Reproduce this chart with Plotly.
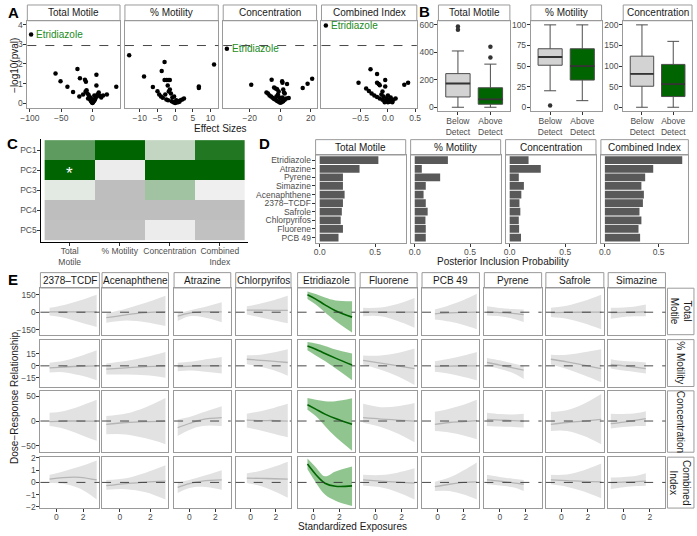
import plotly.graph_objects as go

W, H = 697, 536
FONT = "Liberation Sans, Arial, Helvetica, sans-serif"
GREEN = "#006400"
LABEL_GREEN = "#228B22"
BORDER = "#9a9a9a"
TICKC = "#4d4d4d"
TXT = "#1a1a1a"
TICKSIZE = 8.5

# ---------------- Panel A data (volcano) ----------------
a_titles = ["Total Motile", "% Motility", "Concentration", "Combined Index"]
a_tm_x = [-98, -59, -51, -40, -31, -24, -20, -21, -12, -10.5, -9.4, -8, -6, -5, -4, -3, -2, -1, 0, 1, 2, 3, 4, 5,
          6.3, 6.3, 7, 8, 10, -15, -7, -3, 12, 14, 17, 23, 38, -1.5, 1.5, -11, 3]
a_tm_y = [3.5, 1.52, 1.12, 0.84, 0.58, 1.75, 1.27, 0.35, 1.2, 1.1, 0.66, 0.5, 0.42, 0.3, 0.22, 0.15, 0.1, 0.05, 0.02,
          0.06, 0.1, 0.15, 0.2, 0.28, 1.45, 0.9, 0.35, 0.45, 0.55, 0.45, 0.25, 0.3, 0.38, 0.3, 0.4, 0.45, 0.84, 0.2,
          0.18, 0.6, 0.4]
a_mot_x = [-13, 11, -3, -3.8, -8.8, -3, -2.5, -2, -1.5, -6.3, -5, -2.1, -1.5, -1.2, 6.7, 6.7, 2.5, -4.5, -4, -3.5,
           -2.5, -2, -1, -0.5, 0, 0.5, 1, 1.5, 2, -0.8, -0.3, 0.3, -1.8, -2.8, 0.8, 1.2]
a_mot_y = [2.45, 1.98, 2.1, 1.65, 1.37, 1.18, 1.18, 1.18, 1.18, 0.83, 0.61, 0.9, 0.7, 0.5, 0.85, 0.78, 0.25, 0.45,
           0.35, 0.28, 0.2, 0.15, 0.1, 0.05, 0.02, 0.05, 0.1, 0.15, 0.2, 0.3, 0.35, 0.15, 0.6, 0.45, 0.05, 0.08]
a_conc_x = [-35, -19, -5.6, 1.3, 1.5, 4.5, 14.8, 18, 21, 5.6, -4, -3, -2, -1, 2, 2.5, -8, -7, -6, -5, -4, -3, -2, -1,
            0, 1, 2, 3, 4, -2.5, -0.5, 0.5, 1.5, -1.5, 3, -9]
a_conc_y = [2.77, 0.94, 1.2, 1.12, 1.05, 0.98, 0.78, 1.0, 1.25, 0.27, 0.8, 0.75, 0.72, 0.6, 0.7, 0.55, 0.5, 0.4,
            0.35, 0.28, 0.22, 0.18, 0.12, 0.08, 0.03, 0.06, 0.1, 0.18, 0.25, 0.35, 0.3, 0.25, 0.3, 0.45, 0.5, 0.55]
a_ci_x = [-1.14, -0.54, -0.32, -0.2, -0.2, -0.17, -0.15, -0.05, -0.05, 0.3, 0.37, -0.4, -0.35, -0.3, -0.25, -0.2,
          -0.15, -0.1, -0.05, 0, 0.03, 0.06, 0.1, 0.14, -0.12, -0.08, -0.03, 0.02, 0.05, -0.1, 0.0, -0.02, 0.08, -0.06]
a_ci_y = [3.96, 1.04, 1.73, 1.49, 1.05, 0.98, 0.92, 1.19, 0.85, 0.95, 1.04, 0.75, 0.62, 0.5, 0.4, 0.32, 0.25, 0.18,
          0.12, 0.05, 0.08, 0.12, 0.18, 0.25, 0.45, 0.35, 0.25, 0.2, 0.3, 0.6, 0.4, 0.15, 0.05, 0.05]
a_threshold = 2.94
a_label = "Etridiazole"

# ---------------- Panel B data (boxplots) ----------------
b_titles = ["Total Motile", "% Motility", "Concentration"]
b_groups = ["Below<br>Detect", "Above<br>Detect"]
# [lower whisker, q1, median, q3, upper whisker]
b_tm_below = [0, 75, 173, 245, 410]
b_tm_above = [0, 22, 58, 142, 314]
b_tm_out_below = [565, 589]
b_tm_out_above = [362, 441]
b_mot_below = [20, 51, 61, 71, 100]
b_mot_above = [8, 33, 50, 71, 100]
b_mot_out_below = [2]
b_mot_out_above = []
b_conc_below = [0, 51, 81, 124, 200]
b_conc_above = [0, 26, 56, 104, 160]
b_conc_out_below = []
b_conc_out_above = []

# ---------------- Panel C data (heatmap) ----------------
c_pcs = ["PC1", "PC2", "PC3", "PC4", "PC5"]
c_outcomes = ["Total<br>Motile", "% Motility", "Concentration", "Combined<br>Index"]
c_values = [[0.61, 1.0, 0.2, 0.86],
            [1.0, -0.05, 1.0, 1.0],
            [0.06, -0.4, 0.33, -0.02],
            [-0.4, -0.4, -0.4, -0.4],
            [-0.38, -0.38, -0.05, -0.38]]
c_star = ("PC2", 0)

# ---------------- Panel D data (PIPs) ----------------
d_titles = ["Total Motile", "% Motility", "Concentration", "Combined Index"]
d_chems = ["Etridiazole", "Atrazine", "Pyrene", "Simazine", "Acenaphthene", "2378–TCDF", "Safrole",
           "Chlorpyrifos", "Fluorene", "PCB 49"]
d_tm = [0.53, 0.36, 0.21, 0.21, 0.225, 0.21, 0.2, 0.19, 0.21, 0.17]
d_mot = [0.30, 0.064, 0.23, 0.10, 0.08, 0.10, 0.117, 0.097, 0.10, 0.10]
d_conc = [0.17, 0.28, 0.082, 0.128, 0.105, 0.088, 0.096, 0.082, 0.085, 0.102]
d_ci = [0.72, 0.45, 0.375, 0.34, 0.363, 0.354, 0.322, 0.34, 0.313, 0.328]

# ---------------- Panel E data (dose-response) ----------------
e_exposures = ["2378–TCDF", "Acenaphthene", "Atrazine", "Chlorpyrifos", "Etridiazole", "Fluorene", "PCB 49",
               "Pyrene", "Safrole", "Simazine"]
e_outcomes = ["Total<br>Motile", "% Motility", "Concentration", "Combined<br>Index"]
e_x = {
    "2378–TCDF": [-0.5, 0.5, 1.75, 3.0],
    "Acenaphthene": [-0.9, 0.4, 1.7, 3.0],
    "Atrazine": [-0.9, 0.0, 1.0, 2.5],
    "Chlorpyrifos": [-0.3, 0.8, 1.9, 2.94],
    "Etridiazole": [-0.43, 0.2, 0.9, 1.7, 2.96],
    "Fluorene": [-0.95, 0.4, 1.7, 3.0],
    "PCB 49": [-0.2, 0.9, 2.0, 3.0],
    "Pyrene": [-0.98, 0.0, 1.0, 1.83],
    "Safrole": [-0.8, 0.4, 1.7, 3.0],
    "Simazine": [-0.98, 0.0, 1.0, 1.7],
}
e_tm_est = {"2378–TCDF": [2, 2, 3, 3], "Acenaphthene": [-47, -22, -3, 3], "Atrazine": [-34, -8, 2, 3],
            "Chlorpyrifos": [18, 17, 16, 15], "Etridiazole": [149, 112, 63, 13, -42], "Fluorene": [2, 1, 0, 0],
            "PCB 49": [-14, -6, -1, 1], "Pyrene": [2, -3, -10, -20], "Safrole": [-3, -2, 0, 1],
            "Simazine": [-3, -1, 1, 3]}
e_tm_lo = {"2378–TCDF": [-28, -45, -85, -126], "Acenaphthene": [-90, -70, -85, -118], "Atrazine": [-75, -35, -40, -85],
           "Chlorpyrifos": [-20, -45, -70, -95], "Etridiazole": [113, 65, 0, -75, -174],
           "Fluorene": [-34, -35, -75, -132], "PCB 49": [-62, -80, -110, -146], "Pyrene": [-28, -35, -55, -84],
           "Safrole": [-40, -55, -95, -146], "Simazine": [-56, -40, -35, -34]}
e_tm_hi = {"2378–TCDF": [37, 60, 100, 149], "Acenaphthene": [-11, 30, 80, 140], "Atrazine": [-8, 15, 40, 85],
           "Chlorpyrifos": [50, 75, 105, 140], "Etridiazole": [177, 155, 125, 100, 93],
           "Fluorene": [37, 40, 70, 121], "PCB 49": [22, 60, 105, 157], "Pyrene": [50, 35, 28, 23],
           "Safrole": [37, 55, 95, 149], "Simazine": [37, 40, 50, 65]}
e_mot_est = {"2378–TCDF": [-2.5, -1.5, -0.5, 0], "Acenaphthene": [-4, -2.5, -1, 0], "Atrazine": [-1, -0.5, 0, 0],
             "Chlorpyrifos": [8.3, 7, 5.5, 4.2], "Etridiazole": [25, 21, 15.5, 9.7, 1],
             "Fluorene": [7, 3.5, 0, -3.4], "PCB 49": [-0.5, -0.3, 0, 0], "Pyrene": [4.2, 1, -2.5, -5.4],
             "Safrole": [8.3, 5, 1, -3.4], "Simazine": [1.7, 0, -2, -3.4]}
e_mot_lo = {"2378–TCDF": [-8.4, -8, -12, -18], "Acenaphthene": [-11, -11, -12, -15], "Atrazine": [-6.7, -6, -7, -9.6],
            "Chlorpyrifos": [2, -1, -6, -12.5], "Etridiazole": [19.5, 13, 6, -3, -18],
            "Fluorene": [1.7, -5, -13, -24], "PCB 49": [-7.5, -10, -14, -18], "Pyrene": [0, -4, -9, -16.7],
            "Safrole": [1.7, -4, -12, -20.8], "Simazine": [-3.4, -6, -8, -9.6]}
e_mot_hi = {"2378–TCDF": [4, 6, 12, 19.5], "Acenaphthene": [3, 6, 11, 17.5], "Atrazine": [4, 5, 7.5, 11],
            "Chlorpyrifos": [13.3, 14, 17, 20.8], "Etridiazole": [30, 28, 25, 20.5, 15.4],
            "Fluorene": [13, 13, 16, 21.7], "PCB 49": [5.8, 9, 13, 17.5], "Pyrene": [10, 7, 3, 0],
            "Safrole": [14, 14, 17, 20.8], "Simazine": [8.3, 6, 5, 4.2]}
e_conc_est = {"2378–TCDF": [-1, 0, 0, 0], "Acenaphthene": [-6.7, -3, -1, 0], "Atrazine": [-13.3, -5, 3, 6.7],
              "Chlorpyrifos": [2, 1, 1, 0], "Etridiazole": [33, 24, 14, 5, -6.7], "Fluorene": [6.7, 4, 2, 0],
              "PCB 49": [-6.7, -3, -1, 1], "Pyrene": [3.3, 2, 1, 0], "Safrole": [-6.7, -3, 0, 3.3],
              "Simazine": [-5.3, -2, 2, 4.7]}
e_conc_lo = {"2378–TCDF": [-10, -15, -27, -40], "Acenaphthene": [-26.7, -27, -35, -46.7],
             "Atrazine": [-30, -18, -10, -10], "Chlorpyrifos": [-13, -19, -26, -33],
             "Etridiazole": [23, 10, -10, -32, -60], "Fluorene": [-3.4, -12, -25, -43],
             "PCB 49": [-20, -23, -29, -36.7], "Pyrene": [-10, -11, -12, -13], "Safrole": [-20, -20, -30, -46.7],
             "Simazine": [-15, -12, -10, -10]}
e_conc_hi = {"2378–TCDF": [16.7, 20, 30, 43], "Acenaphthene": [10, 15, 28, 46.6], "Atrazine": [3.3, 8, 17, 30],
             "Chlorpyrifos": [14.7, 20, 27, 34.7], "Etridiazole": [46.6, 43, 40, 40, 46],
             "Fluorene": [34.7, 28, 30, 36.6], "PCB 49": [18.6, 25, 33, 43], "Pyrene": [16.7, 14, 13, 14.7],
             "Safrole": [18.6, 22, 35, 54.6], "Simazine": [14.7, 14, 16, 20]}
e_ci_est = {"2378–TCDF": [0.27, 0.4, 0.42, 0.2], "Acenaphthene": [-0.27, -0.1, 0.03, 0.1],
            "Atrazine": [-0.4, -0.1, 0.1, 0.2], "Chlorpyrifos": [0.35, 0.33, 0.3, 0.27],
            "Etridiazole": [1.5, 0.65, -0.07, -0.32, -0.28], "Fluorene": [0.2, 0.1, 0.02, -0.05],
            "PCB 49": [-0.35, -0.15, 0, 0.05], "Pyrene": [0.2, 0.1, -0.03, -0.15], "Safrole": [0.2, 0.15, 0.08, 0.05],
            "Simazine": [-0.02, 0.02, 0.06, 0.1]}
e_ci_lo = {"2378–TCDF": [-0.05, -0.1, -0.5, -1.4], "Acenaphthene": [-0.6, -0.55, -0.8, -1.4],
           "Atrazine": [-0.86, -0.45, -0.35, -0.6], "Chlorpyrifos": [-0.05, -0.3, -0.75, -1.26],
           "Etridiazole": [1.07, 0.0, -1.0, -1.5, -1.94], "Fluorene": [-0.27, -0.4, -0.8, -1.4],
           "PCB 49": [-0.7, -0.7, -1.0, -1.4], "Pyrene": [-0.15, -0.25, -0.4, -0.7],
           "Safrole": [-0.15, -0.35, -0.75, -1.3], "Simazine": [-0.54, -0.4, -0.3, -0.27]}
e_ci_hi = {"2378–TCDF": [0.62, 0.9, 1.3, 1.8], "Acenaphthene": [0.2, 0.35, 0.8, 1.4], "Atrazine": [0, 0.2, 0.5, 1.0],
           "Chlorpyrifos": [0.75, 0.95, 1.3, 1.7], "Etridiazole": [1.96, 1.25, 0.5, 0.9, 1.3],
           "Fluorene": [0.62, 0.6, 0.8, 1.15], "PCB 49": [0.05, 0.4, 1.0, 1.64], "Pyrene": [0.62, 0.45, 0.3, 0.2],
           "Safrole": [0.62, 0.65, 1.0, 1.55], "Simazine": [0.4, 0.45, 0.55, 0.75]}
e_highlight = "Etridiazole"

# ====================== build figure ======================
fig = go.Figure()
layout = dict(width=W, height=H, margin=dict(l=0, r=0, t=0, b=0), paper_bgcolor="white",
              plot_bgcolor="white", showlegend=False, font=dict(family=FONT, size=8, color=TICKC))
shapes, annotations = [], []
axn = [0]


def px_x(p):
    return p / W


def px_y(p):
    return 1 - p / H


def new_axes(x0, x1, y0, y1, xr, yr, xt=None, xtt=None, yt=None, ytt=None, showx=True, showy=True,
             border=True, linecolor=BORDER, mirror=True):
    axn[0] += 1
    n = axn[0]
    s = "" if n == 1 else str(n)
    common = dict(showgrid=False, zeroline=False, showline=border, mirror=mirror if border else False,
                  linecolor=linecolor, linewidth=1, ticklen=3, tickcolor="#333333", tickwidth=0.8,
                  tickfont=dict(size=TICKSIZE, color=TICKC), fixedrange=True)
    xa = dict(common, domain=[px_x(x0), px_x(x1)], range=xr, anchor="y" + s,
              ticks="outside" if showx else "", showticklabels=showx, ticklabelstandoff=-2)
    ya = dict(common, domain=[px_y(y1), px_y(y0)], range=yr, anchor="x" + s,
              ticks="outside" if showy else "", showticklabels=showy, ticklabelstandoff=-1)
    if xt is not None:
        xa.update(tickmode="array", tickvals=xt, ticktext=xtt if xtt is not None else [str(v) for v in xt])
    if yt is not None:
        ya.update(tickmode="array", tickvals=yt, ticktext=ytt if ytt is not None else [str(v) for v in yt])
    layout["xaxis" + s] = xa
    layout["yaxis" + s] = ya
    return "x" + s, "y" + s


def strip(x0, x1, y0, y1, text, angle=0, size=10):
    shapes.append(dict(type="rect", xref="paper", yref="paper", x0=px_x(x0), x1=px_x(x1), y0=px_y(y1),
                       y1=px_y(y0), line=dict(color=BORDER, width=1), fillcolor="white", layer="below"))
    annotations.append(dict(text=text, x=px_x((x0 + x1) / 2), y=px_y((y0 + y1) / 2), xref="paper", yref="paper",
                            showarrow=False, font=dict(size=size, color=TXT), textangle=angle,
                            xanchor="center", yanchor="middle"))


def label(text, x, y, size=10, angle=0, bold=False):
    annotations.append(dict(text=("<b>%s</b>" % text) if bold else text, x=px_x(x), y=px_y(y), xref="paper",
                            yref="paper", showarrow=False, font=dict(size=size, color="black" if bold else TXT),
                            textangle=angle, xanchor="center", yanchor="middle"))


# ---------------- Panel A ----------------
a_pos = [(20.7, 115), (120, 215), (220, 315), (320, 417)]
a_xr = [[-104, 44], [-14.2, 12.2], [-37.4, 23.9], [-1.22, 0.53]]
a_xt = [[-100, -50, 0], [-10, -5, 0, 5, 10], [-20, 0, 20], [-0.5, 0.0, 0.5]]
a_xtt = [["−100", "−50", "0"], ["−10", "−5", "0", "5", "10"], ["−20", "0", "20"], ["−0.5", "0.0", "0.5"]]
a_data = [(a_tm_x, a_tm_y), (a_mot_x, a_mot_y), (a_conc_x, a_conc_y), (a_ci_x, a_ci_y)]
a_lab = {0: 0, 2: 0, 3: 0}
for i in range(4):
    x0, x1 = a_pos[i]
    xa, ya = new_axes(x0, x1, 17, 106, a_xr[i], [-0.26, 4.2], xt=a_xt[i], xtt=a_xtt[i],
                      yt=[0, 1, 2, 3, 4], showy=(i == 0))
    xs, ys = a_data[i]
    fig.add_trace(go.Scatter(x=xs, y=ys, mode="markers", marker=dict(size=4.5, color="black"),
                             xaxis=xa, yaxis=ya, hoverinfo="skip"))
    shapes.append(dict(type="line", xref=xa + " domain", yref=ya, x0=0, x1=1, y0=a_threshold, y1=a_threshold,
                       line=dict(color="#333333", width=0.9, dash="dash")))
    if i in a_lab:
        annotations.append(dict(text=a_label, x=xs[0], y=ys[0], xref=xa, yref=ya, showarrow=False,
                                xanchor="left", yanchor="middle", xshift=3,
                                font=dict(size=10, color=LABEL_GREEN)))
    strip(x0, x1, 1, 17, a_titles[i])
label("−log10(pval)", 7, 62, angle=-90)
label("Effect Sizes", 217, 126)
label("A", 7, 9, size=15, bold=True)

# ---------------- Panel B ----------------
b_pos = [(439, 511.7), (533, 605), (627, 697)]
b_yr = [[-30, 630], [-5, 105], [-10, 210]]
b_yt = [[0, 200, 400, 600], [0, 25, 50, 75, 100], [0, 50, 100, 150, 200]]
b_data = [(b_tm_below, b_tm_above, b_tm_out_below, b_tm_out_above),
          (b_mot_below, b_mot_above, b_mot_out_below, b_mot_out_above),
          (b_conc_below, b_conc_above, b_conc_out_below, b_conc_out_above)]
BOXW = 0.75
for i in range(3):
    x0, x1 = b_pos[i]
    xa, ya = new_axes(x0, x1, 17, 109, [-0.6, 1.6], b_yr[i], xt=[0, 1], xtt=b_groups, yt=b_yt[i])
    below, above, ob, oa = b_data[i]
    for pos, st, col in [(0, below, "#d3d3d3"), (1, above, GREEN)]:
        fig.add_trace(go.Box(x=[pos], lowerfence=[st[0]], q1=[st[1]], median=[st[2]], q3=[st[3]],
                             upperfence=[st[4]], width=BOXW, fillcolor=col, boxpoints=False,
                             line=dict(color="#4d4d4d", width=1), xaxis=xa, yaxis=ya, hoverinfo="skip"))
        # thicker median bar, as ggplot draws it
        fig.add_trace(go.Scatter(x=[pos - BOXW / 2, pos + BOXW / 2], y=[st[2], st[2]], mode="lines",
                                 line=dict(color="#333333", width=1.8), xaxis=xa, yaxis=ya, hoverinfo="skip"))
    for pos, outs in [(0, ob), (1, oa)]:
        if outs:
            fig.add_trace(go.Scatter(x=[pos] * len(outs), y=outs, mode="markers",
                                     marker=dict(size=4.5, color="#333333"), xaxis=xa, yaxis=ya,
                                     hoverinfo="skip"))
    strip(x0, x1, 1, 17, b_titles[i])
label("B", 425, 8, size=15, bold=True)

# ---------------- Panel C ----------------
xa, ya = new_axes(35, 245, 137, 241.7, [-0.565, 3.56], [4.585, -0.56], xt=[0, 1, 2, 3], xtt=c_outcomes,
                  yt=[0, 1, 2, 3, 4], ytt=c_pcs, linecolor="black", mirror=False)
fig.add_trace(go.Heatmap(z=c_values, x=[0, 1, 2, 3], y=[0, 1, 2, 3, 4], zmin=-0.4, zmax=1.0,
                         colorscale=[[0, "#bebebe"], [0.2857, "#f2f2f2"], [1, GREEN]], showscale=False,
                         xaxis=xa, yaxis=ya, hoverinfo="skip"))
annotations.append(dict(text="*", x=c_star[1], y=c_pcs.index(c_star[0]), xref=xa, yref=ya, showarrow=False,
                        font=dict(size=17, color="white"), yshift=-3))
label("C", 6, 142, size=15, bold=True)

# ---------------- Panel D ----------------
d_pos = [(314, 405.7), (410.7, 502.3), (507.3, 599.3), (604.3, 693.3)]
d_vals = [d_tm, d_mot, d_conc, d_ci]
for i in range(4):
    x0, x1 = d_pos[i]
    xa, ya = new_axes(x0, x1, 153.3, 242.3, [-0.037, 0.777], [9.6, -0.6], xt=[0, 0.5], xtt=["0.0", "0.5"],
                      yt=list(range(10)), ytt=d_chems, showy=(i == 0))
    fig.add_trace(go.Bar(x=d_vals[i], y=list(range(10)), orientation="h", width=0.9,
                         marker=dict(color="#595959", line=dict(width=0)), xaxis=xa, yaxis=ya,
                         hoverinfo="skip"))
    strip(x0, x1, 137.7, 153.3, d_titles[i])
label("Posterior Inclusion Probability", 505, 261)
label("D", 262, 142, size=15, bold=True)

# ---------------- Panel E ----------------
e_left = [34, 96.7, 170, 232.7, 295.7, 359.3, 422.3, 485.7, 548.3, 611.7]
e_right = [94, 164.3, 227.7, 289, 354.3, 417.3, 480.7, 544, 607.3, 670]
e_top = [288.5, 340.7, 392.7, 460]
e_bot = [335.7, 388.3, 455, 511.7]
e_yr = [[-192, 205], [-26, 33], [-63, 61], [-2.1, 2.07]]
e_yt = [[-150, 0, 150], [-15, 0, 15], [-50, 0, 50], [-2, -1, 0, 1, 2]]
e_ytt = [["−150", "0", "150"], ["−15", "0", "15"], ["−50", "0", "50"], ["−2", "−1", "0", "1", "2"]]
e_rows = [(e_tm_est, e_tm_lo, e_tm_hi), (e_mot_est, e_mot_lo, e_mot_hi), (e_conc_est, e_conc_lo, e_conc_hi),
          (e_ci_est, e_ci_lo, e_ci_hi)]
for r in range(4):
    est_d, lo_d, hi_d = e_rows[r]
    for c, chem in enumerate(e_exposures):
        xa, ya = new_axes(e_left[c], e_right[c], e_top[r], e_bot[r], [-1.18, 3.2], e_yr[r], xt=[0, 2],
                          yt=e_yt[r], ytt=e_ytt[r], showx=(r == 3), showy=(c == 0))
        hl = chem == e_highlight
        fillc = "rgba(34,139,34,0.5)" if hl else "#e2e2e2"
        linec = GREEN if hl else "#b5b5b5"
        xs = e_x[chem]
        fig.add_trace(go.Scatter(x=xs, y=hi_d[chem], mode="lines", line=dict(width=0, shape="spline"),
                                 xaxis=xa, yaxis=ya, hoverinfo="skip"))
        fig.add_trace(go.Scatter(x=xs, y=lo_d[chem], mode="lines", line=dict(width=0, shape="spline"),
                                 fill="tonexty", fillcolor=fillc, xaxis=xa, yaxis=ya, hoverinfo="skip"))
        fig.add_trace(go.Scatter(x=xs, y=est_d[chem], mode="lines",
                                 line=dict(width=1.6 if hl else 1.3, color=linec, shape="spline"),
                                 xaxis=xa, yaxis=ya, hoverinfo="skip"))
        shapes.append(dict(type="line", xref=xa + " domain", yref=ya, x0=0, x1=1, y0=0, y1=0, layer="above",
                           line=dict(color="#333333", width=0.9, dash="dash")))
        if r == 0:
            strip(e_left[c], e_right[c], 272.7, 288.3, chem)
    strip(672, 699, e_top[r], e_bot[r], e_outcomes[r], angle=90)
label("Dose−Response Relationship", 7, 400, angle=-90)
label("Standardized Exposures", 352, 530)
label("E", 6, 280, size=15, bold=True)

layout["shapes"] = shapes
layout["annotations"] = annotations
fig.update_layout(**layout)
fig.write_html("out.html", config={"displayModeBar": False},
               post_script="document.body.style.margin='0';document.body.style.overflow='hidden';")
